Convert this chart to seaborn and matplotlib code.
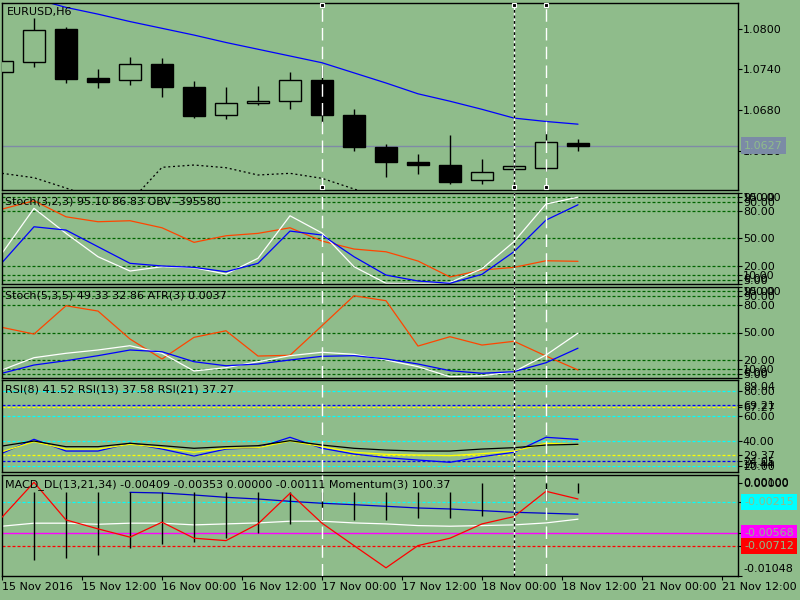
#!/usr/bin/env python3
import numpy as np
import seaborn as sns
import matplotlib.pyplot as plt
import matplotlib.transforms as mtrans

BG = '#8fbc8b'

# EURUSD H6 candles
bars = np.arange(19)
opens = [1.07358, 1.07507, 1.07996, 1.07274, 1.07240, 1.07481, 1.07136, 1.06721, 1.06899, 1.06929,
         1.07245, 1.06726, 1.06257, 1.06030, 1.05990, 1.05759, 1.05930, 1.05945, 1.06307]
highs = [1.07521, 1.08158, 1.08025, 1.07407, 1.07585, 1.07566, 1.07230, 1.07141, 1.07156, 1.07363,
         1.07452, 1.06815, 1.06296, 1.06148, 1.06430, 1.06074, 1.06182, 1.06489, 1.06370]
lows = [1.07358, 1.07442, 1.07205, 1.07130, 1.07175, 1.06997, 1.06686, 1.06662, 1.06879, 1.06819,
        1.06612, 1.06197, 1.05812, 1.05847, 1.05699, 1.05708, 1.05840, 1.05901, 1.06197]
closes = [1.07521, 1.07981, 1.07264, 1.07220, 1.07481, 1.07145, 1.06716, 1.06899, 1.06933, 1.07240,
          1.06730, 1.06257, 1.06034, 1.05990, 1.05738, 1.05877, 1.05970, 1.06321, 1.06270]

# moving average (blue) from bar 1, lower dotted band for bars 0..12
ma_blue = [1.0845, 1.0832, 1.0822, 1.0811, 1.0801, 1.0791, 1.0780, 1.0770, 1.0760, 1.0750,
           1.0735, 1.0720, 1.0704, 1.0693, 1.0681, 1.0668, 1.0663, 1.0659]
band_low = [1.05862, 1.05797, 1.05644, 1.0548, 1.0544, 1.05951, 1.05985, 1.05945, 1.05837, 1.05862,
            1.05788, 1.0563, 1.0548]

# Stoch(3,2,3) / OBV panel
st1_main = [33.8, 82.9, 55.6, 30.1, 14.5, 19.2, 18.1, 11.2, 28.4, 74.8,
            56.0, 19.2, 1.1, 0.5, 2.0, 17.0, 46.5, 87.6, 95.10]
st1_signal = [23.6, 62.8, 59.2, 41.0, 22.9, 20.0, 18.5, 13.7, 22.9, 58.1,
              53.8, 30.1, 10.1, 3.6, 1.1, 10.9, 35.6, 70.1, 86.83]
obv = [82.1, 91.2, 73.7, 68.3, 69.4, 61.7, 45.8, 53.0, 55.6, 61.7,
       47.2, 38.5, 35.5, 25.4, 8.0, 15.6, 18.5, 25.7, 25.1]

# Stoch(5,3,5) / ATR panel
st2_main = [9.1, 22.5, 27.3, 30.9, 35.6, 27.3, 8.0, 11.6, 18.1, 24.7,
            28.4, 26.2, 20.0, 12.7, 1.7, 2.8, 7.2, 25.4, 49.33]
st2_signal = [5.5, 14.5, 19.2, 24.7, 30.9, 29.0, 18.1, 13.7, 15.6, 20.0,
              24.0, 24.7, 21.1, 15.6, 8.3, 5.5, 7.2, 17.0, 32.86]
atr = [55.6, 48.3, 79.2, 73.4, 42.9, 21.1, 44.7, 51.9, 24.3, 25.1,
       57.4, 90.1, 84.7, 35.2, 45.4, 36.3, 40.4, 24.3, 9.1]
stoch_levels = [95, 90, 80, 50, 20, 10, 5]

# RSI panel
rsi8 = [30.4, 41.6, 32.2, 32.2, 38.4, 33.8, 28.2, 33.8, 34.9, 43.2,
        34.4, 29.8, 26.9, 25.0, 23.2, 27.7, 31.2, 43.2, 41.52]
rsi13 = [36.2, 40.2, 35.7, 35.7, 38.4, 36.5, 34.4, 35.7, 36.5, 40.5,
         37.0, 34.4, 33.0, 32.2, 32.2, 33.8, 34.9, 37.0, 37.58]
rsi21 = [31.7, 39.7, 33.8, 33.8, 37.6, 34.9, 31.2, 34.4, 34.9, 40.2,
         35.7, 31.2, 29.6, 29.0, 28.5, 30.1, 32.2, 38.4, 37.27]
rsi_cyan_levels = [80, 60, 40, 20]
rsi_blue_levels = [69.21, 24.05]
rsi_yellow_levels = [67.27, 29.37]

# MACD_DL / Momentum panel
macd_red = [-0.00387, 0.00006, -0.00417, -0.00518, -0.00611, -0.00443, -0.00623, -0.00650, -0.00462, -0.00118,
            -0.00454, -0.00706, -0.00956, -0.00706, -0.00623, -0.00462, -0.00380, -0.00095, -0.00182]
macd_white = [-0.00488, -0.00454, -0.00454, -0.00466, -0.00454, -0.00454, -0.00473, -0.00462, -0.00451, -0.00432,
              -0.00432, -0.00451, -0.00462, -0.00481, -0.00488, -0.00481, -0.00473, -0.00451, -0.00409]
macd_blue = [-0.00107, -0.00114, -0.00137, -0.00163, -0.00182, -0.00208, -0.00230, -0.00246, -0.00264,
             -0.00283, -0.00294, -0.00313, -0.00331, -0.00342, -0.00353]  # bars 4..18
hist_top = [-0.00100] + [-0.00107] * 13 + [0.0] * 4  # bars 1..18
hist_bot = [-0.00866, -0.00840, -0.00810, -0.00728, -0.00687, -0.00668, -0.00623, -0.00563, -0.00462,
            -0.00414, -0.00414, -0.00414, -0.00398, -0.00398, -0.00369, -0.00330, -0.00201, -0.00111]
macd_levels = {'cyan': -0.00215, 'magenta': -0.00568, 'red': -0.00712}

time_ticks = [0, 2.5, 5, 7.5, 10, 12.5, 15, 17.5, 20, 22.5]
time_labels = ['15 Nov 2016', '15 Nov 12:00', '16 Nov 00:00', '16 Nov 12:00', '17 Nov 00:00',
               '17 Nov 12:00', '18 Nov 00:00', '18 Nov 12:00', '21 Nov 00:00', '21 Nov 12:00']
marker_bars = [10, 16, 17]

sns.set_style('ticks')
plt.rcParams['font.family'] = ['DejaVu Sans']
plt.rcParams['font.size'] = 8

fig = plt.figure(figsize=(8, 6), dpi=100, facecolor=BG)
W, H = 800, 600


def panel(top, bottom, ylim):
    ax = fig.add_axes([2 / W, 1 - bottom / H, 736 / W, (bottom - top) / H], facecolor=BG)
    ax.set_xlim(0, 23)
    ax.set_ylim(*ylim)
    for s in ax.spines.values():
        s.set_visible(True)
        s.set_color('black')
        s.set_linewidth(1)
    ax.yaxis.tick_right()
    ax.tick_params(axis='y', direction='out', length=3, width=0.8, pad=0.5, labelsize=8, colors='black')
    ax.tick_params(axis='x', bottom=False, labelbottom=False, top=False)
    return ax


def title(ax, text, dx=3):
    ax.annotate(text, xy=(0, 1), xycoords='axes fraction', xytext=(dx, -4), textcoords='offset pixels',
                ha='left', va='top', fontsize=8, color='black', zorder=7)


def side_label(ax, val, text, dy=0):
    ax.annotate(text, xy=(1, val), xycoords=('axes fraction', 'data'), xytext=(5, dy),
                textcoords='offset pixels', ha='left', va='center', fontsize=8,
                color='black', annotation_clip=False)


def side_box(ax, val, text, fc):
    ax.annotate(text, xy=(1, val), xycoords=('axes fraction', 'data'), xytext=(6, 0),
                textcoords='offset pixels', ha='left', va='center', fontsize=8, color=BG,
                annotation_clip=False, zorder=8,
                bbox=dict(boxstyle='square,pad=0.3', fc=fc, ec='none'))


def line(ax, x, y, color, **kw):
    sns.lineplot(x=list(x), y=y, ax=ax, color=color, linewidth=0.9, errorbar=None, **kw)
    ax.set(xlabel='', ylabel='')


dash = (0, (2.4, 1.6))

# main price panel
ax0 = panel(3, 190, (1.05615, 1.08385))
ax0.axhline(closes[-1], color='#7f8aa6', lw=1, zorder=1)
line(ax0, bars[1:], ma_blue, '#0000ff')
line(ax0, bars[:len(band_low)], band_low, 'black', linestyle=(0, (1.6, 2.2)))
o, c = np.array(opens), np.array(closes)
ax0.vlines(bars, lows, highs, color='black', lw=1, zorder=3)
ax0.bar(bars, np.maximum(np.abs(c - o), 0.00002), bottom=np.minimum(o, c), width=0.7,
        color=[BG if cc >= oo else 'black' for oo, cc in zip(o, c)],
        edgecolor='black', linewidth=1, zorder=4)
ax0.set_yticks([1.0620, 1.0680, 1.0740, 1.0800])
ax0.set_yticklabels(['1.0620', '1.0680', '1.0740', '1.0800'])
side_box(ax0, closes[-1], f'{closes[-1]:.4f}', '#7b8ba6')
title(ax0, 'EURUSD,H6', dx=5)

# stochastic panels
def stoch_panel(top, bottom, main, signal, other, label):
    ax = panel(top, bottom, (0, 100))
    for lv in stoch_levels:
        ax.axhline(lv, color='#006400', lw=0.9, ls=dash, zorder=1)
    line(ax, bars, other, '#ff4500')
    line(ax, bars, main, 'white')
    line(ax, bars, signal, '#0000ff')
    ax.set_yticks(stoch_levels + [0, 100])
    ax.set_yticklabels([f'{v:.2f}' for v in stoch_levels] + ['', ''])
    side_label(ax, 100, '100.00', dy=-5)
    side_label(ax, 0, '0.00', dy=5)
    title(ax, label)
    return ax


ax1 = stoch_panel(192.7, 284.3, st1_main, st1_signal, obv, 'Stoch(3,2,3) 95.10 86.83 OBV -395580')
ax2 = stoch_panel(286.7, 378.3, st2_main, st2_signal, atr, 'Stoch(5,3,5) 49.33 32.86 ATR(3) 0.0037')

# RSI panel
ax3 = panel(380, 472, (15.44, 89.04))
for lv in rsi_cyan_levels:
    ax3.axhline(lv, color='#00ffff', lw=0.9, ls=dash, zorder=1)
for lv in rsi_blue_levels:
    ax3.axhline(lv, color='#0000ff', lw=0.9, ls=dash, zorder=1)
for lv in rsi_yellow_levels:
    ax3.axhline(lv, color='#ffff00', lw=0.9, ls=dash, zorder=1)
line(ax3, bars, rsi8, '#0000ff')
line(ax3, bars, rsi21, '#ffff00')
line(ax3, bars, rsi13, 'black')
rsi_ticks = rsi_cyan_levels + rsi_blue_levels + rsi_yellow_levels
ax3.set_yticks(rsi_ticks)
ax3.set_yticklabels([f'{v:.2f}' for v in rsi_ticks])
side_label(ax3, 89.04, '89.04', dy=-7)
side_label(ax3, 15.44, '15.44', dy=7)
title(ax3, 'RSI(8) 41.52 RSI(13) 37.58 RSI(21) 37.27')

# MACD panel
ax4 = panel(475, 576, (-0.01048, 0.00088))
ax4.axhline(macd_levels['cyan'], color='#00ffff', lw=0.9, ls=dash, zorder=1)
ax4.axhline(macd_levels['magenta'], color='#ff00ff', lw=1, zorder=1)
ax4.axhline(macd_levels['red'], color='#ff0000', lw=0.9, ls=dash, zorder=1)
line(ax4, bars, macd_white, 'white')
line(ax4, bars[4:], macd_blue, '#0000cd')
ax4.vlines(bars[1:], hist_bot, hist_top, color='black', lw=1, zorder=3)
line(ax4, bars, macd_red, '#ff0000', zorder=4)
ax4.set_yticks([0.0, -0.01048] + list(macd_levels.values()))
ax4.set_yticklabels(['0.00000', ''] + [''] * 3)
side_label(ax4, 0.0, '0.00100', dy=0)
side_label(ax4, -0.01048, '-0.01048', dy=7)
for name, v in macd_levels.items():
    side_box(ax4, v, f'{v:.5f}', {'cyan': '#00ffff', 'magenta': '#ff00ff', 'red': '#ff0000'}[name])
title(ax4, 'MACD_DL(13,21,34) -0.00409 -0.00353 0.00000 -0.00111 Momentum(3) 100.37')
ax4.set_xticks(time_ticks)
ax4.set_xticklabels(time_labels)
ax4.tick_params(axis='x', bottom=True, labelbottom=True, direction='out', length=3, width=0.8,
                pad=1, labelsize=8, colors='black')
for lab in ax4.get_xticklabels():
    lab.set_ha('left')

# vertical marker lines across every panel
for ax in (ax0, ax1, ax2, ax3, ax4):
    ax.axvline(marker_bars[0], color='white', lw=1, ls=(0, (9, 4.5)), zorder=6)
    ax.axvline(marker_bars[1], color='white', lw=1, zorder=6)
    ax.axvline(marker_bars[1], color='black', lw=1, ls=(0, (2, 2)), zorder=6)
    ax.axvline(marker_bars[2], color='white', lw=1, ls=(0, (9, 4.5)), zorder=6)

blend = mtrans.blended_transform_factory(ax0.transData, ax0.transAxes)
for yy in (0.988, 0.016):
    ax0.plot(marker_bars, [yy] * len(marker_bars), ls='none', marker='s', ms=3.2, mfc='black',
             mec='white', mew=0.8, transform=blend, clip_on=False, zorder=7)

fig.savefig('out.png', dpi=100, facecolor=BG)
